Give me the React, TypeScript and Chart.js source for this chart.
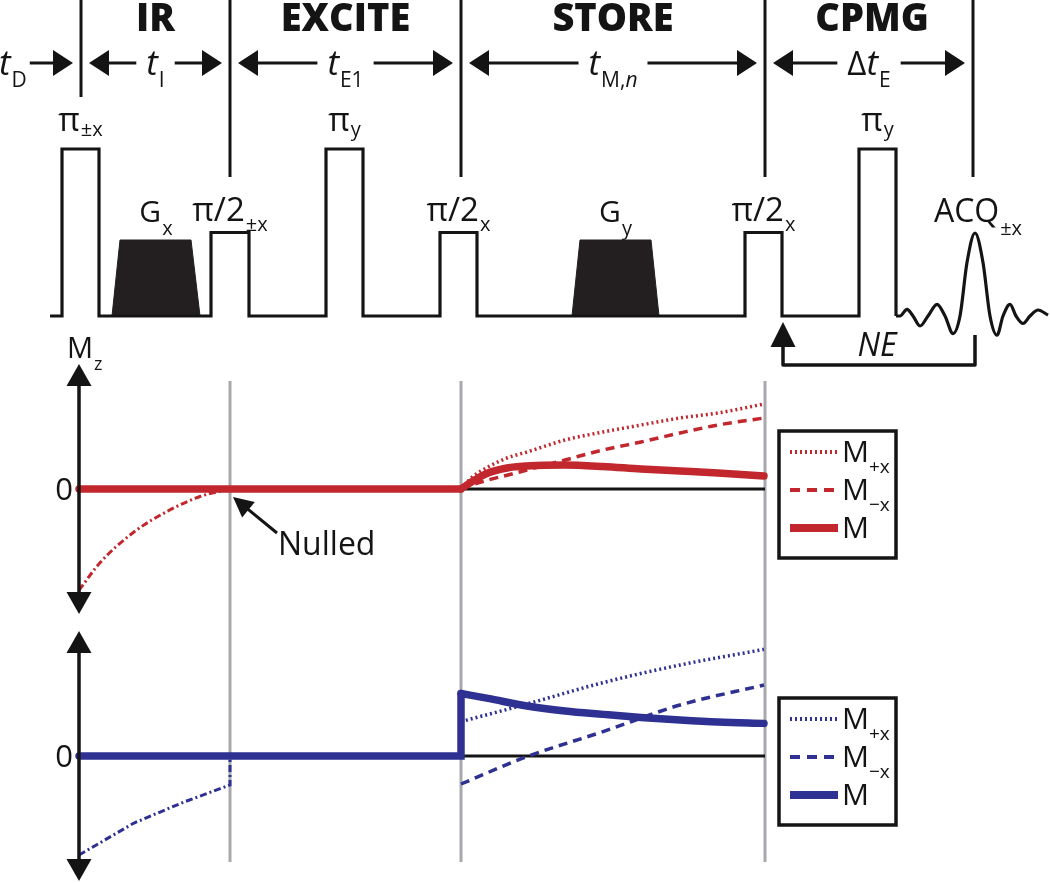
import { useEffect, useRef } from "react";
import { Chart, registerables } from "chart.js";

Chart.register(...registerables);

const W = 1050;
const H = 883;
const FONT = '"Open Sans", "Noto Sans", sans-serif';
const RED = "#C1272D";
const BLUE = "#2E3192";
const GRAY = "#A7A9AC";
const INK = "#141414";
const GRAD_FILL = "#231F20";

// ---------------- data ----------------
const PHASES = ["IR", "EXCITE", "STORE", "CPMG"];
const BOUNDARIES = [81, 230, 461, 765, 973];
const INTERVAL_MAIN = ["t", "t", "t", "Δt"];
const INTERVAL_SUB = ["I", "E1", "M,n", "E"];

const SEQ_START = 50;
const RF_T0 = [62, 211, 326, 440, 745, 859];
const RF_T1 = [99, 249, 363, 477, 782, 896];
const RF_AMP = [1, 0.5, 1, 0.5, 0.5, 1];
const RF_NAME = ["π", "π/2", "π", "π/2", "π/2", "π"];
const RF_PHASE = ["±x", "±x", "y", "x", "x", "y"];

const GX_T = [112, 120, 191, 200];
const GY_T = [572, 580, 651, 659];
const G_AMP = [0, 0.455, 0.455, 0];
const G_AXIS = ["x", "y"];

const ACQ_T = [896, 900, 907, 913, 920, 928, 937, 945, 953, 960, 967, 975, 983, 990, 997, 1003, 1010, 1016, 1023, 1030, 1038, 1048];
const ACQ_S = [0, 0, 0.04, 0, -0.06, 0, 0.07, 0, -0.105, 0, 0.32, 0.497, 0.32, 0, -0.115, 0, 0.07, 0, -0.045, 0, 0.036, 0.005];

// red panel
const RED_IR_T = [79, 100, 133, 167, 200, 230];
const RED_IR_M = [-0.81, -0.59, -0.35, -0.18, -0.06, 0];
const RED_FLAT_T = [79, 461];
const RED_FLAT_M = [0, 0];
const RED_ST_T = [461, 473, 488, 507, 527, 565, 603, 641, 680, 718, 764];
const RED_MPX = [0, 0.1, 0.176, 0.248, 0.296, 0.392, 0.456, 0.512, 0.568, 0.608, 0.68];
const RED_MMX = [0, 0.036, 0.072, 0.11, 0.152, 0.232, 0.312, 0.376, 0.448, 0.512, 0.568];
const RED_M = [0, 0.064, 0.128, 0.168, 0.184, 0.192, 0.18, 0.16, 0.144, 0.128, 0.104];

// blue panel
const BLUE_IR_T = [79, 134, 184, 230, 230];
const BLUE_IR_M = [-0.792, -0.536, -0.368, -0.232, 0];
const BLUE_FLAT_T = [79, 461, 461];
const BLUE_FLAT_M = [0, 0, 0.5];
const BLUE_ST_T = [461, 488, 527, 565, 603, 641, 680, 718, 764];
const BLUE_M = [0.5, 0.461, 0.4, 0.36, 0.333, 0.308, 0.288, 0.272, 0.261];
const BLUE_PX_T = [461, 527, 603, 680, 764];
const BLUE_MPX = [0.275, 0.416, 0.587, 0.728, 0.853];
const BLUE_MMX = [-0.224, -0.005, 0.195, 0.408, 0.568];

const STORE_ZERO_T = [461, 765];
const STORE_ZERO_M = [0, 0];

const LEGEND_SUB = ["+x", "−x", ""];

// ---------------- helpers ----------------
const pts = (t: number[], v: number[]) => t.map((x, i) => ({ x, y: v[i] }));
const range = (zeroPx: number, unitPx: number) => ({ min: (zeroPx - H) / unitPx, max: zeroPx / unitPx });

type Run = { s: string; size: number; italic?: boolean; bold?: boolean; dy?: number; dx?: number };
const fontOf = (r: Run) => `${r.italic ? "italic " : ""}${r.bold ? "800 " : ""}${r.size}px ${FONT}`;
function richWidth(ctx: CanvasRenderingContext2D, runs: Run[]) {
  let w = 0;
  for (const r of runs) {
    ctx.font = fontOf(r);
    w += ctx.measureText(r.s).width + (r.dx || 0);
  }
  return w;
}
function drawRich(ctx: CanvasRenderingContext2D, runs: Run[], x: number, y: number, align = "left") {
  let cx = align === "center" ? x - richWidth(ctx, runs) / 2 : x;
  ctx.textAlign = "left";
  ctx.textBaseline = "alphabetic";
  for (const r of runs) {
    ctx.font = fontOf(r);
    cx += r.dx || 0;
    ctx.fillText(r.s, cx, y + (r.dy || 0));
    cx += ctx.measureText(r.s).width;
  }
}
function seg(ctx: CanvasRenderingContext2D, x0: number, y0: number, x1: number, y1: number) {
  ctx.beginPath();
  ctx.moveTo(x0, y0);
  ctx.lineTo(x1, y1);
  ctx.stroke();
}
function head(ctx: CanvasRenderingContext2D, tx: number, ty: number, dx: number, dy: number, len: number, half: number) {
  const bx = tx - dx * len;
  const by = ty - dy * len;
  const nx = -dy;
  const ny = dx;
  ctx.beginPath();
  ctx.moveTo(tx, ty);
  ctx.lineTo(bx + nx * half, by + ny * half);
  ctx.lineTo(bx - nx * half, by - ny * half);
  ctx.closePath();
  ctx.fill();
}
function arrow(ctx: CanvasRenderingContext2D, x0: number, y0: number, x1: number, y1: number, len: number, half: number) {
  const d = Math.hypot(x1 - x0, y1 - y0);
  const ux = (x1 - x0) / d;
  const uy = (y1 - y0) / d;
  seg(ctx, x0, y0, x1 - ux * len * 0.8, y1 - uy * len * 0.8);
  head(ctx, x1, y1, ux, uy, len, half);
}

const diagramPlugin = {
  id: "diagram",
  beforeDatasetsDraw(chart: any) {
    const ctx: CanvasRenderingContext2D = chart.ctx;
    const xs = chart.scales.x;
    ctx.save();
    ctx.strokeStyle = GRAY;
    ctx.lineWidth = 3;
    for (const b of BOUNDARIES.slice(1, 4)) {
      const x = xs.getPixelForValue(b);
      seg(ctx, x, 381, x, 862);
    }
    ctx.restore();
  },
  afterDatasetsDraw(chart: any) {
    const ctx: CanvasRenderingContext2D = chart.ctx;
    const xs = chart.scales.x;
    const ySeq = chart.scales.ySeq;
    const yRed = chart.scales.yRed;
    const yBlue = chart.scales.yBlue;
    const X = (t: number) => xs.getPixelForValue(t);
    ctx.save();
    ctx.fillStyle = INK;
    ctx.strokeStyle = INK;
    ctx.lineCap = "butt";

    // section boundaries
    ctx.lineWidth = 3;
    BOUNDARIES.forEach((b, i) => seg(ctx, X(b), 0, X(b), i === 0 ? 97 : 177));

    // phase headers
    PHASES.forEach((p, i) => {
      const mid = (X(BOUNDARIES[i]) + X(BOUNDARIES[i + 1])) / 2;
      drawRich(ctx, [{ s: p, size: 38, bold: true }], mid + (i === 3 ? 3 : 0), 31, "center");
    });

    // timing arrows
    const ROW = 63;
    const BASE = 75;
    const MAIN = 35;
    const SUB = 21;
    const tdRuns: Run[] = [
      { s: "t", size: MAIN, italic: true },
      { s: "D", size: SUB, dy: 12, dx: 1 },
    ];
    drawRich(ctx, tdRuns, -1, BASE);
    ctx.lineWidth = 3;
    arrow(ctx, richWidth(ctx, tdRuns) + 2, ROW, X(BOUNDARIES[0]) - 8, ROW, 20, 13);
    INTERVAL_MAIN.forEach((m, i) => {
      const runs: Run[] = [];
      if (m.startsWith("Δ")) {
        runs.push({ s: "Δ", size: MAIN - 2 }, { s: "t", size: MAIN, italic: true });
      } else runs.push({ s: m, size: MAIN, italic: true });
      const sub = INTERVAL_SUB[i];
      if (sub.endsWith(",n")) {
        runs.push({ s: sub.slice(0, -1), size: SUB, dy: 12, dx: 1 }, { s: "n", size: SUB, italic: true, dy: 12 });
      } else runs.push({ s: sub, size: SUB, dy: 12, dx: 1 });
      const a = X(BOUNDARIES[i]);
      const b = X(BOUNDARIES[i + 1]);
      const mid = (a + b) / 2;
      const w = richWidth(ctx, runs);
      drawRich(ctx, runs, mid, BASE, "center");
      arrow(ctx, mid - w / 2 - 10, ROW, a + 8, ROW, 20, 13);
      arrow(ctx, mid + w / 2 + 10, ROW, b - 8, ROW, 20, 13);
    });

    // RF pulse labels
    const OFF: Record<string, number[]> = { "π": [-18, -13], "π/2": [-12, -2] };
    RF_T0.forEach((t0, i) => {
      const top = ySeq.getPixelForValue(RF_AMP[i]);
      const [m, s] = OFF[RF_NAME[i]];
      drawRich(
        ctx,
        [
          { s: RF_NAME[i], size: 33 },
          { s: RF_PHASE[i], size: 20, dy: s - m, dx: 1 },
        ],
        X((t0 + RF_T1[i]) / 2),
        top + m,
        "center"
      );
    });
    // gradient labels
    [GX_T, GY_T].forEach((g, i) => {
      const top = ySeq.getPixelForValue(G_AMP[1]);
      drawRich(
        ctx,
        [
          { s: "G", size: 30 },
          { s: G_AXIS[i], size: 20, dy: 13, dx: 1 },
        ],
        X((g[0] + g[3]) / 2),
        top - 18,
        "center"
      );
    });
    // ACQ label
    const pk = ACQ_S.indexOf(Math.max(...ACQ_S));
    const pkTop = ySeq.getPixelForValue(ACQ_S[pk]);
    drawRich(
      ctx,
      [
        { s: "ACQ", size: 32 },
        { s: "±x", size: 20, dy: 13, dx: 1 },
      ],
      X(ACQ_T[pk]) + 3,
      pkTop - 11,
      "center"
    );

    // NE loop bracket
    const ne0 = X(RF_T1[4]) + 1;
    const ne1 = X(ACQ_T[pk]);
    ctx.lineWidth = 3.5;
    ctx.lineJoin = "round";
    ctx.beginPath();
    ctx.moveTo(ne0, 342);
    ctx.lineTo(ne0, 365);
    ctx.lineTo(ne1, 365);
    ctx.lineTo(ne1, 335);
    ctx.stroke();
    head(ctx, ne0, 322, 0, -1, 25, 12.5);
    drawRich(ctx, [{ s: "NE", size: 32, italic: true }], (ne0 + ne1) / 2 - 2, 356, "center");

    // Mz axes
    const ax = X(RED_IR_T[0]);
    [yRed, yBlue].forEach((sc: any) => {
      const top = sc.getPixelForValue(1.0);
      const bot = sc.getPixelForValue(-1.0);
      ctx.lineWidth = 3.5;
      seg(ctx, ax, top + 10, ax, bot - 10);
      head(ctx, ax, top, 0, -1, 22, 12.5);
      head(ctx, ax, bot, 0, 1, 22, 12.5);
      drawRich(ctx, [{ s: "0", size: 31 }], ax - 15, sc.getPixelForValue(0) + 11, "center");
    });
    drawRich(
      ctx,
      [
        { s: "M", size: 29 },
        { s: "z", size: 18, dy: 12, dx: 1 },
      ],
      67,
      358
    );

    // Nulled annotation
    const nx = X(RED_IR_T[RED_IR_T.length - 1]);
    const ny = yRed.getPixelForValue(0);
    ctx.lineWidth = 3;
    arrow(ctx, nx + 47, ny + 44, nx + 3, ny + 8, 20, 10);
    drawRich(ctx, [{ s: "Nulled", size: 32 }], nx + 48, ny + 66);

    // legends
    const drawLegend = (zeroPx: number, color: string) => {
      const bx = 779;
      const by = zeroPx - 58;
      ctx.strokeStyle = INK;
      ctx.lineWidth = 3.5;
      ctx.lineJoin = "miter";
      ctx.strokeRect(bx, by, 117, 127);
      const rows = [by + 21, by + 59, by + 97];
      const widths = [4, 4, 8];
      const dashes = [[2, 3], [10, 7], []];
      rows.forEach((ry, i) => {
        ctx.save();
        ctx.strokeStyle = color;
        ctx.lineWidth = widths[i];
        ctx.setLineDash(dashes[i]);
        seg(ctx, 790, ry, 838, ry);
        ctx.restore();
        ctx.fillStyle = INK;
        const runs: Run[] = [{ s: "M", size: 30 }];
        if (LEGEND_SUB[i]) runs.push({ s: LEGEND_SUB[i], size: 19, dy: 11, dx: 0 });
        drawRich(ctx, runs, 842, ry + 10);
      });
    };
    drawLegend(yRed.getPixelForValue(0), RED);
    drawLegend(yBlue.getPixelForValue(0), BLUE);

    ctx.restore();
  },
};

export default function App() {
  const ref = useRef<HTMLCanvasElement | null>(null);
  useEffect(() => {
    if (!ref.current) return;
    const seq: { x: number; y: number }[] = [{ x: SEQ_START, y: 0 }];
    RF_T0.forEach((t0, i) => {
      seq.push({ x: t0, y: 0 }, { x: t0, y: RF_AMP[i] }, { x: RF_T1[i], y: RF_AMP[i] }, { x: RF_T1[i], y: 0 });
    });
    const line = (data: any, color: string, width: number, axis: string, order: number, extra: any = {}) => ({
      data,
      borderColor: color,
      backgroundColor: color,
      borderWidth: width,
      yAxisID: axis,
      pointRadius: 0,
      fill: false,
      tension: 0,
      order,
      ...extra,
    });
    const smooth = { cubicInterpolationMode: "monotone" };
    const chart = new Chart(ref.current, {
      type: "line",
      data: {
        datasets: [
          line(seq, INK, 3.2, "ySeq", 1),
          line(pts(ACQ_T, ACQ_S), INK, 3.2, "ySeq", 1, smooth),
          line(pts(GX_T, G_AMP), GRAD_FILL, 1, "ySeq", 2, { fill: "origin", backgroundColor: GRAD_FILL }),
          line(pts(GY_T, G_AMP), GRAD_FILL, 1, "ySeq", 2, { fill: "origin", backgroundColor: GRAD_FILL }),

          line(pts(STORE_ZERO_T, STORE_ZERO_M), INK, 3, "yRed", 9),
          line(pts(RED_IR_T, RED_IR_M), RED, 3, "yRed", 6, { ...smooth, borderDash: [7, 3, 2, 3] }),
          line(pts(RED_ST_T, RED_MPX), RED, 3.5, "yRed", 5, { ...smooth, borderDash: [2, 3] }),
          line(pts(RED_ST_T, RED_MMX), RED, 3.5, "yRed", 4, { ...smooth, borderDash: [9, 6] }),
          line(pts(RED_FLAT_T, RED_FLAT_M), RED, 7.5, "yRed", 3, { borderCapStyle: "round" }),
          line(pts(RED_ST_T, RED_M), RED, 7.5, "yRed", 3, { ...smooth, borderCapStyle: "round" }),

          line(pts(STORE_ZERO_T, STORE_ZERO_M), INK, 3, "yBlue", 9),
          line(pts(BLUE_IR_T, BLUE_IR_M), BLUE, 3, "yBlue", 6, { borderDash: [7, 3, 2, 3] }),
          line(pts(BLUE_PX_T, BLUE_MPX), BLUE, 3.5, "yBlue", 5, { ...smooth, borderDash: [2, 3] }),
          line(pts(BLUE_PX_T, BLUE_MMX), BLUE, 3.5, "yBlue", 4, { ...smooth, borderDash: [9, 6] }),
          line(pts(BLUE_FLAT_T, BLUE_FLAT_M), BLUE, 7.5, "yBlue", 3, { borderCapStyle: "round", borderJoinStyle: "miter" }),
          line(pts(BLUE_ST_T, BLUE_M), BLUE, 7.5, "yBlue", 3, { ...smooth, borderCapStyle: "round" }),
        ],
      },
      options: {
        responsive: false,
        animation: false,
        devicePixelRatio: 1,
        events: [],
        layout: { padding: 0 },
        plugins: { legend: { display: false }, tooltip: { enabled: false } },
        scales: {
          x: { type: "linear", min: 0, max: W, display: false },
          ySeq: { type: "linear", ...range(316, 167), display: false },
          yRed: { type: "linear", ...range(489, 125), display: false },
          yBlue: { type: "linear", ...range(756, 125), display: false },
        },
      } as any,
      plugins: [diagramPlugin],
    });
    return () => chart.destroy();
  }, []);
  return (
    <div style={{ position: "fixed", left: 0, top: 0, width: W, height: H, background: "#fff" }}>
      <canvas ref={ref} width={W} height={H} style={{ display: "block" }} />
    </div>
  );
}
